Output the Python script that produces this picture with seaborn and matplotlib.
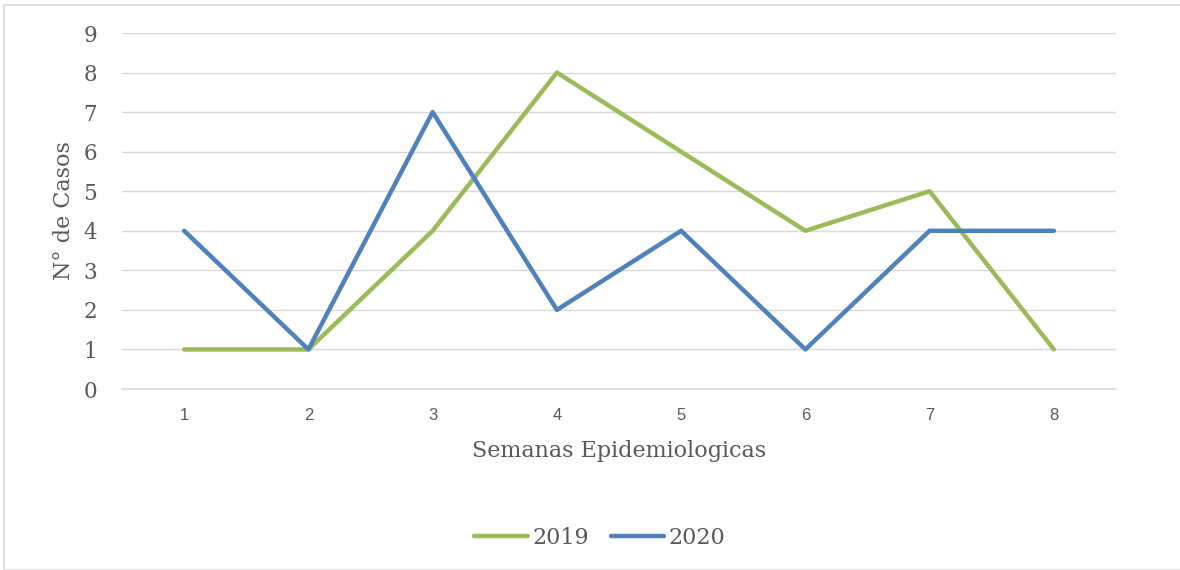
import matplotlib
matplotlib.use("Agg")
import matplotlib.pyplot as plt
import seaborn as sns
import pandas as pd
from matplotlib.patches import Rectangle
from matplotlib.lines import Line2D

semanas = [1, 2, 3, 4, 5, 6, 7, 8]
casos_2019 = [1, 1, 4, 8, 6, 4, 5, 1]
casos_2020 = [4, 1, 7, 2, 4, 1, 4, 4]
y_ticks = [0, 1, 2, 3, 4, 5, 6, 7, 8, 9]

df = pd.DataFrame({
    "Semana": semanas * 2,
    "Casos": casos_2019 + casos_2020,
    "Año": ["2019"] * len(semanas) + ["2020"] * len(semanas),
})

sns.set_theme(style="white")
serif = ["DejaVu Serif"]
sans = ["Liberation Sans", "DejaVu Sans"]

fig = plt.figure(figsize=(11.8, 5.7), dpi=100)
fig.patches.append(Rectangle((4 / 1180, 0), 1.0, 1 - 5 / 570, transform=fig.transFigure,
                             fill=False, edgecolor="#D9D9D9", linewidth=1.2))
ax = fig.add_axes([122 / 1180, 1 - 389 / 570, (1116 - 122) / 1180, (389 - 33) / 570])

palette = {"2019": "#9BBB59", "2020": "#4F81BD"}
sns.lineplot(data=df, x="Semana", y="Casos", hue="Año", palette=palette,
             linewidth=3.2, ax=ax, legend=False, zorder=3)
for l in ax.lines:
    l.set_solid_capstyle("round")

ax.set_xlim(0.5, 8.5)
ax.set_ylim(0, 9)
ax.set_yticks(y_ticks)
ax.set_xticks(semanas)
ax.set_xticklabels([str(s) for s in semanas], fontfamily=sans, fontsize=12, color="#595959")
ax.set_yticklabels([str(v) for v in y_ticks], fontfamily=serif, fontsize=15.5, color="#595959")
ax.tick_params(axis="both", length=0)
ax.tick_params(axis="x", pad=14)
ax.tick_params(axis="y", pad=18)
ax.yaxis.grid(True, color="#D9D9D9", linewidth=1)
ax.axhline(0, color="#D9D9D9", linewidth=1.2, zorder=1, clip_on=False)
ax.set_axisbelow(True)
for s in ax.spines.values():
    s.set_visible(False)

ax.set_xlabel("Semanas Epidemiologicas", fontfamily=serif, fontsize=16, color="#595959", labelpad=12)
ax.set_ylabel("N° de Casos", fontfamily=serif, fontsize=16, color="#595959", labelpad=6)

handles = [Line2D([0], [0], color=palette[k], linewidth=3.2, solid_capstyle="round") for k in ["2019", "2020"]]
leg = fig.legend(handles, ["2019", "2020"], loc="center", bbox_to_anchor=(600 / 1180, 1 - 538 / 570),
                 ncol=2, frameon=False, prop={"family": serif, "size": 16},
                 handlelength=2.4, handletextpad=0.2, columnspacing=1.0)
for t in leg.get_texts():
    t.set_color("#595959")

fig.savefig("out.png", dpi=100)
